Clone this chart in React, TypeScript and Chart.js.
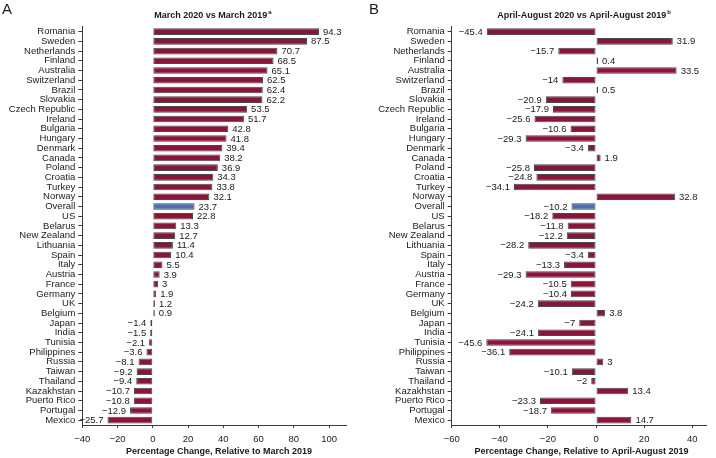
import React, { useEffect, useRef } from 'react';
import { Chart, registerables } from 'chart.js';

Chart.register(...registerables);

const categories = [
  'Romania', 'Sweden', 'Netherlands', 'Finland', 'Australia', 'Switzerland', 'Brazil', 'Slovakia',
  'Czech Republic', 'Ireland', 'Bulgaria', 'Hungary', 'Denmark', 'Canada', 'Poland', 'Croatia',
  'Turkey', 'Norway', 'Overall', 'US', 'Belarus', 'New Zealand', 'Lithuania', 'Spain', 'Italy',
  'Austria', 'France', 'Germany', 'UK', 'Belgium', 'Japan', 'India', 'Tunisia', 'Philippines',
  'Russia', 'Taiwan', 'Thailand', 'Kazakhstan', 'Puerto Rico', 'Portugal', 'Mexico',
];

const marchValues = [
  94.3, 87.5, 70.7, 68.5, 65.1, 62.5, 62.4, 62.2, 53.5, 51.7, 42.8, 41.8, 39.4, 38.2, 36.9, 34.3,
  33.8, 32.1, 23.7, 22.8, 13.3, 12.7, 11.4, 10.4, 5.5, 3.9, 3, 1.9, 1.2, 0.9, -1.4, -1.5, -2.1, -3.6,
  -8.1, -9.2, -9.4, -10.7, -10.8, -12.9, -25.7,
];

const aprAugValues = [
  -45.4, 31.9, -15.7, 0.4, 33.5, -14, 0.5, -20.9, -17.9, -25.6, -10.6, -29.3, -3.4, 1.9, -25.8, -24.8,
  -34.1, 32.8, -10.2, -18.2, -11.8, -12.2, -28.2, -3.4, -13.3, -29.3, -10.5, -10.4, -24.2, 3.8, -7,
  -24.1, -45.6, -36.1, 3, -10.1, -2, 13.4, -23.3, -18.7, 14.7,
];

const xTicksA = [-40, -20, 0, 20, 40, 60, 80, 100];
const xTicksB = [-60, -40, -20, 0, 20, 40];

const FONT = '"Liberation Sans", Arial, Helvetica, sans-serif';
const RED = '#8a1538';
const BLUE = '#4a6ea8';
const BORDER = '#4a4a4a';
const TEXT = '#1a1a1a';
const AXIS = '#3a3a3a';

const fmt = (v: number) => (v < 0 ? '\u2212' + String(Math.abs(v)) : String(v));

type PanelCfg = {
  values: number[];
  min: number;
  max: number;
  ticks: number[];
  title: string;
  sup: string;
  titleCenter: number;
  letter: string;
  letterX: number;
  xTitle: string;
  xTitleCenter: number;
  yWidth: number;
  padRight: number;
};

function buildChart(canvas: HTMLCanvasElement, cfg: PanelCfg) {
  const overlay = {
    id: 'overlay',
    afterDatasetsDraw(chart: any) {
      const ctx = chart.ctx as CanvasRenderingContext2D;
      const meta = chart.getDatasetMeta(0);
      ctx.save();
      ctx.font = `9.5px ${FONT}`;
      ctx.fillStyle = TEXT;
      ctx.textBaseline = 'middle';
      meta.data.forEach((bar: any, i: number) => {
        const v = cfg.values[i];
        if (v >= 0) {
          ctx.textAlign = 'left';
          ctx.fillText(fmt(v), bar.x + 4, bar.y + 0.5);
        } else {
          ctx.textAlign = 'right';
          ctx.fillText(fmt(v), bar.x - 4, bar.y + 0.5);
        }
      });
      // panel title with superscript
      ctx.font = `bold 9px ${FONT}`;
      const w1 = ctx.measureText(cfg.title).width;
      ctx.font = `bold 6px ${FONT}`;
      const w2 = ctx.measureText(cfg.sup).width;
      const x0 = cfg.titleCenter - (w1 + w2 + 1) / 2;
      ctx.textAlign = 'left';
      ctx.font = `bold 9px ${FONT}`;
      ctx.fillText(cfg.title, x0, 15.5);
      ctx.font = `bold 6px ${FONT}`;
      ctx.fillText(cfg.sup, x0 + w1 + 1, 12);
      // x axis title
      ctx.font = `bold 9px ${FONT}`;
      ctx.textAlign = 'center';
      ctx.fillText(cfg.xTitle, cfg.xTitleCenter, 452);
      // panel letter
      ctx.font = `15px ${FONT}`;
      ctx.textAlign = 'left';
      ctx.textBaseline = 'alphabetic';
      ctx.fillText(cfg.letter, cfg.letterX, 14);
      ctx.restore();
    },
  };

  return new Chart(canvas, {
    type: 'bar',
    data: {
      labels: categories,
      datasets: [
        {
          data: cfg.values,
          backgroundColor: categories.map((c) => (c === 'Overall' ? BLUE : RED)),
          borderColor: BORDER,
          borderWidth: 1,
          borderSkipped: false,
          minBarLength: 2,
          barPercentage: 0.68,
          categoryPercentage: 1,
        },
      ],
    },
    options: {
      indexAxis: 'y',
      responsive: false,
      animation: false,
      devicePixelRatio: 1,
      layout: { padding: { top: 26.8, right: cfg.padRight, left: 0, bottom: 0 } },
      plugins: { legend: { display: false }, tooltip: { enabled: false }, title: { display: false } },
      scales: {
        x: {
          type: 'linear',
          min: cfg.min,
          max: cfg.max,
          afterBuildTicks: (scale: any) => {
            scale.ticks = cfg.ticks.map((v) => ({ value: v }));
          },
          afterFit: (scale: any) => {
            scale.height = 33;
          },
          grid: { drawOnChartArea: false, drawTicks: true, tickLength: 3, color: AXIS },
          border: { display: true, color: AXIS, width: 1 },
          ticks: {
            font: { size: 9.5, family: FONT },
            color: TEXT,
            padding: 6,
            maxRotation: 0,
            callback: (v: any) => fmt(Number(v)),
          },
          title: { display: false },
        },
        y: {
          type: 'category',
          afterFit: (scale: any) => {
            scale.width = cfg.yWidth;
          },
          grid: { drawOnChartArea: false, drawTicks: true, tickLength: 4, color: AXIS, offset: false },
          border: { display: true, color: AXIS, width: 1 },
          ticks: {
            autoSkip: false,
            font: { size: 9.5, family: FONT },
            color: TEXT,
            padding: 3,
          },
        },
      },
    } as any,
    plugins: [overlay],
  });
}

export default function App() {
  const refA = useRef<HTMLCanvasElement>(null);
  const refB = useRef<HTMLCanvasElement>(null);

  useEffect(() => {
    const a = buildChart(refA.current!, {
      values: marchValues,
      min: -40,
      max: 110,
      ticks: xTicksA,
      title: 'March 2020 vs March 2019',
      sup: 'a',
      titleCenter: 213,
      letter: 'A',
      letterX: 2,
      xTitle: 'Percentage Change, Relative to March 2019',
      xTitleCenter: 219,
      yWidth: 82.3,
      padRight: 11.3,
    });
    const b = buildChart(refB.current!, {
      values: aprAugValues,
      min: -60,
      max: 46,
      ticks: xTicksB,
      title: 'April-August 2020 vs April-August 2019',
      sup: 'b',
      titleCenter: 226,
      letter: 'B',
      letterX: 11,
      xTitle: 'Percentage Change, Relative to April-August 2019',
      xTitleCenter: 223.5,
      yWidth: 93.7,
      padRight: 9.3,
    });
    return () => {
      a.destroy();
      b.destroy();
    };
  }, []);

  return (
    <div style={{ position: 'fixed', left: 0, top: 0, width: 716, height: 458, background: '#fff' }}>
      <canvas ref={refA} width={358} height={458} style={{ position: 'absolute', left: 0, top: 0, width: 358, height: 458 }} />
      <canvas ref={refB} width={358} height={458} style={{ position: 'absolute', left: 358, top: 0, width: 358, height: 458 }} />
    </div>
  );
}
